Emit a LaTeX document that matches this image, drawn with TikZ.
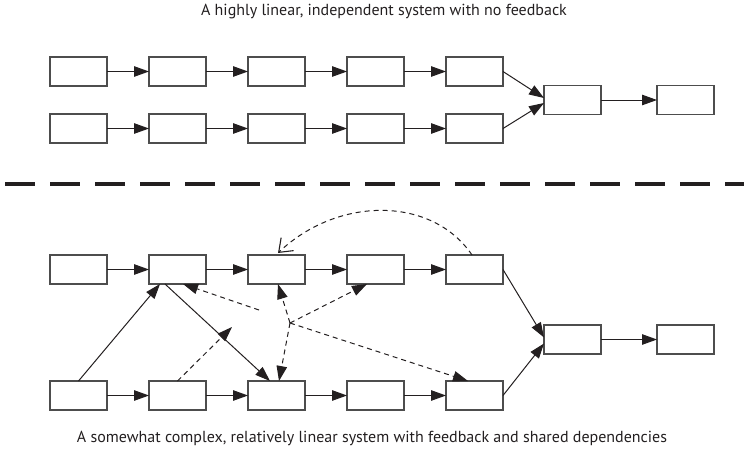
\documentclass[tikz,border=0pt]{standalone}
\usepackage{fontspec}
\setmainfont{PT Sans}
\usetikzlibrary{arrows.meta,calc}
\definecolor{boxline}{HTML}{4D4D4D}
\definecolor{ink}{HTML}{231F20}
\tikzset{
  box/.style={draw=boxline,line width=1.3pt,fill=white,minimum width=57pt,minimum height=29pt,inner sep=0pt,outer sep=0pt},
  link/.style={draw=ink,line width=1pt,-{Triangle[length=15pt,width=10.5pt]}},
  dlink/.style={link,dash pattern=on 5pt off 4pt},
  fb/.style={draw=ink,line width=1pt,dash pattern=on 5pt off 4pt,-{Straight Barb[length=12pt,width=18pt,line width=1.1pt]}},
  divider/.style={draw=ink,line width=4.5pt,dash pattern=on 30pt off 15pt},
  caption/.style={font=\fontsize{16pt}{19pt}\selectfont,text=ink,inner sep=0pt}
}
\begin{document}
\begin{tikzpicture}[x=1pt,y=-1pt]
\useasboundingbox (0,0) rectangle (744,458);
% titles
\node[caption] (t1) at (384,12) {A highly linear, independent system with no feedback};
\node[caption] (t2) at (372,438) {A somewhat complex, relatively linear system with feedback and shared dependencies};
% divider
\coordinate (d0) at (5,184);
\coordinate (d1) at (760,184);
\begin{scope}
\clip (0,0) rectangle (744,458);
\draw[divider] (d0) -- (d1);
\end{scope}
% top panel
\foreach \i/\x in {1/78.5,2/177.5,3/276.5,4/375.5,5/474.5}{
  \node[box] (p\i) at (\x,71.5) {};
  \node[box] (q\i) at (\x,128.5) {};
}
\node[box] (pm) at (572.5,100) {};
\node[box] (pl) at (685.5,100) {};
\foreach \i/\j in {1/2,2/3,3/4,4/5}{
  \draw[link] (p\i) -- (p\j);
  \draw[link] (q\i) -- (q\j);
}
\draw[link] (p5.east) -- ([yshift=2pt]pm.west);
\draw[link] (q5.east) -- ([yshift=-3pt]pm.west);
\draw[link] (pm) -- (pl);
% bottom panel
\foreach \i/\x in {1/78.5,2/177.5,3/276.5,4/375.5,5/474.5}{
  \node[box] (a\i) at (\x,269.5) {};
  \node[box] (b\i) at (\x,395.5) {};
}
\node[box] (m) at (572.5,339.5) {};
\node[box] (l) at (685.5,339.5) {};
\foreach \i/\j in {1/2,2/3,3/4,4/5}{
  \draw[link] (a\i) -- (a\j);
  \draw[link] (b\i) -- (b\j);
}
\draw[link] (a5.east) -- ([yshift=2pt]m.west);
\draw[link] (b5.east) -- ([yshift=-4pt]m.west);
\draw[link] (m) -- (l);
% cross dependencies (solid)
\draw[link] (b1.north) -- ($(a2.south west)+(11,0)$);
\draw[link] ($(a2.south west)+(16,0)$) -- ($(b3.north west)+(22,0)$);
% dashed dependencies
\coordinate (hub) at (290,323);
\coordinate (mid) at (232,327);
\coordinate (gap) at (259,310);
\draw[dlink] (b2.north) -- (mid);
\draw[dlink] (hub) -- ($(a3.south)+(1.5,0)$);
\draw[dlink] (hub) -- ($(a4.south west)+(20,0)$);
\draw[dlink] (hub) -- ($(b3.north)+(2.5,0)$);
\draw[dlink] (hub) -- ($(b5.north west)+(22,0)$);
\draw[dlink] (gap) -- ($(a2.south west)+(34,0)$);
% feedback
\draw[fb] ($(a5.north)+(-2.5,0)$) .. controls (432,196) and (338,196) .. ($(a3.north)+(1.5,-2)$);
\end{tikzpicture}
\end{document}
